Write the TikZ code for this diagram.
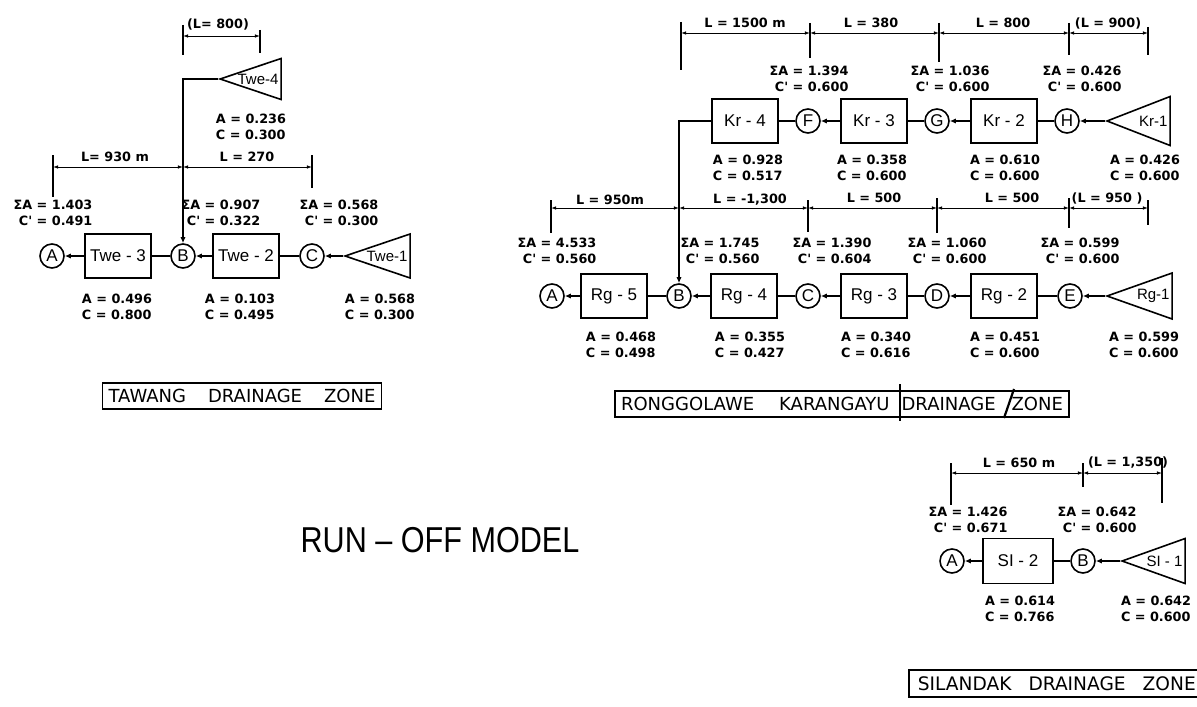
\documentclass[tikz,border=0pt]{standalone}
\usepackage{fontspec}
\setmainfont{Liberation Sans}
\newfontfamily\valfont{DejaVu Sans}
\newfontfamily\zonefont{DejaVu Sans}
\newfontfamily\headfont[FakeStretch=0.85]{Liberation Sans}
\usetikzlibrary{arrows.meta,positioning,shapes.geometric}

\begin{document}
\begin{tikzpicture}[x=0.5pt,y=-0.5pt,
  sub/.style={draw,line width=0.8pt,minimum width=33pt,minimum height=22pt,inner sep=0pt,font=\fontsize{8.5}{10}\selectfont},
  jn/.style={draw,circle,line width=0.8pt,minimum size=12pt,inner sep=0pt,font=\fontsize{8.5}{10}\selectfont},
  head/.style={draw,isosceles triangle,shape border rotate=180,isosceles triangle stretches,line width=0.8pt,inner sep=0pt,anchor=apex,minimum width=22pt,minimum height=32.5pt},
  hlab/.style={anchor=east,inner sep=1.5pt,font=\fontsize{7.5}{9}\selectfont},
  val/.style={inner sep=0pt,font=\valfont\bfseries\fontsize{6.4}{8}\selectfont},
  sum/.style={val,align=right},
  own/.style={val,align=left},
  flow/.style={-{Latex[length=3pt,width=2.6pt]},line width=0.8pt},
  link/.style={line width=0.8pt},
  dim/.style={{Latex[length=2.6pt,width=1.8pt]}-{Latex[length=2.6pt,width=1.8pt]},line width=0.4pt},
  tck/.style={line width=0.9pt},
  zone/.style={draw,line width=0.8pt,inner xsep=3pt,inner ysep=0pt,minimum height=13pt,font=\zonefont\fontsize{9}{10}\selectfont}]
\useasboundingbox (0,0) rectangle (1197,706);

\node[jn] (tA) at (52,256) {A};
\node[sub] (tw3) at (118,256) {Twe - 3};
\node[jn] (tB) at (183,256) {B};
\node[sub] (tw2) at (246,256) {Twe - 2};
\node[jn] (tC) at (312,256) {C};
\node[head] (tw1) at (343,256) {};
\node[hlab] (tw1l) at (tw1.lower side) {Twe-1};
\node[head,minimum width=20.5pt,minimum height=30.5pt] (tw4) at (218,79) {};
\node[hlab] (tw4l) at (tw4.lower side) {Twe-4};
\draw[flow] (tw1.apex) -- (tC); \draw[link] (tC) -- (tw2); \draw[flow] (tw2) -- (tB);
\draw[link] (tB) -- (tw3); \draw[flow] (tw3) -- (tA);
\draw[flow] (tw4.apex) -| (tB);

\coordinate (td1) at (183,36); \coordinate (td2) at (260,36);
\coordinate (td3) at (53,167); \coordinate (td4) at (183,167); \coordinate (td5) at (312,167);
\draw[dim] (td1) -- (td2); \draw[dim] (td3) -- (td4); \draw[dim] (td4) -- (td5);
\draw[tck] (td1) ++(0,-11) -- ++(0,30); \draw[tck] (td2) ++(0,-6) -- ++(0,23);
\draw[tck] (td3) ++(0,-12) -- ++(0,42); \draw[tck] (td5) ++(0,-12) -- ++(0,33);
\node[val] (tl1) at (218,24) {(L= 800)};
\node[val] (tl2) at (115,157) {L= 930 m};
\node[val] (tl3) at (247,157) {L = 270};
\node[sum] (tsA) at (53,213) {ΣA = 1.403\\C' = 0.491};
\node[sum] (tsB) at (221,213) {ΣA = 0.907\\C' = 0.322};
\node[sum] (tsC) at (339,213) {ΣA = 0.568\\C' = 0.300};
\node[own] (tv4) at (251,127) {A = 0.236\\C = 0.300};
\node[own] (tv3) at (117,307) {A = 0.496\\C = 0.800};
\node[own] (tv2) at (240,307) {A = 0.103\\C = 0.495};
\node[own] (tv1) at (380,307) {A = 0.568\\C = 0.300};
\node[zone] (tz) at (242,396) {TAWANG\hspace{11pt}DRAINAGE\hspace{11pt}ZONE};

\node[sub] (kr4) at (745,121) {Kr - 4};
\node[jn] (kF) at (808,121) {F};
\node[sub] (kr3) at (874,121) {Kr - 3};
\node[jn] (kG) at (937,121) {G};
\node[sub] (kr2) at (1004,121) {Kr - 2};
\node[jn] (kH) at (1067,121) {H};
\node[head,minimum width=24.5pt,minimum height=31.5pt] (kr1) at (1105,121) {};
\node[hlab] (kr1l) at (kr1.lower side) {Kr-1};
\draw[flow] (kr1.apex) -- (kH); \draw[link] (kH) -- (kr2); \draw[flow] (kr2) -- (kG);
\draw[link] (kG) -- (kr3); \draw[flow] (kr3) -- (kF); \draw[link] (kF) -- (kr4);

\coordinate (kd1) at (681,33); \coordinate (kd2) at (810,33); \coordinate (kd3) at (939,33);
\coordinate (kd4) at (1069,33); \coordinate (kd5) at (1148,33);
\foreach \a/\b in {kd1/kd2,kd2/kd3,kd3/kd4,kd4/kd5} \draw[dim] (\a) -- (\b);
\draw[tck] (kd1) ++(0,-11) -- ++(0,48); \draw[tck] (kd2) ++(0,-10) -- ++(0,35);
\draw[tck] (kd3) ++(0,-10) -- ++(0,39); \draw[tck] (kd4) ++(0,-10) -- ++(0,32);
\draw[tck] (kd5) ++(0,-6) -- ++(0,28);
\node[val] (kl1) at (745,23) {L = 1500 m};
\node[val] (kl2) at (871,23) {L = 380};
\node[val] (kl3) at (1003,23) {L = 800};
\node[val] (kl4) at (1108,23) {(L = 900)};
\node[sum] (ksF) at (809,79) {ΣA = 1.394\\C' = 0.600};
\node[sum] (ksG) at (950,79) {ΣA = 1.036\\C' = 0.600};
\node[sum] (ksH) at (1082,79) {ΣA = 0.426\\C' = 0.600};
\node[own] (kv4) at (748,168) {A = 0.928\\C = 0.517};
\node[own] (kv3) at (872,168) {A = 0.358\\C = 0.600};
\node[own] (kv2) at (1005,168) {A = 0.610\\C = 0.600};
\node[own] (kv1) at (1145,168) {A = 0.426\\C = 0.600};

\node[jn] (rA) at (552,296) {A};
\node[sub] (rg5) at (614,296) {Rg - 5};
\node[jn] (rB) at (679,296) {B};
\node[sub] (rg4) at (744,296) {Rg - 4};
\node[jn] (rC) at (808,296) {C};
\node[sub] (rg3) at (874,296) {Rg - 3};
\node[jn] (rD) at (937,296) {D};
\node[sub] (rg2) at (1004,296) {Rg - 2};
\node[jn] (rE) at (1070,296) {E};
\node[head,minimum width=23pt,minimum height=32.5pt] (rg1) at (1105,296) {};
\node[hlab] (rg1l) at (rg1.lower side) {Rg-1};
\draw[flow] (rg1.apex) -- (rE); \draw[link] (rE) -- (rg2); \draw[flow] (rg2) -- (rD);
\draw[link] (rD) -- (rg3); \draw[flow] (rg3) -- (rC); \draw[link] (rC) -- (rg4);
\draw[flow] (rg4) -- (rB); \draw[link] (rB) -- (rg5); \draw[flow] (rg5) -- (rA);
\draw[flow] (kr4) -| (rB);

\coordinate (rd1) at (551,208); \coordinate (rd2) at (679,208); \coordinate (rd3) at (808,208);
\coordinate (rd4) at (937,208); \coordinate (rd5) at (1069,208); \coordinate (rd6) at (1148,208);
\foreach \a/\b in {rd1/rd2,rd2/rd3,rd3/rd4,rd4/rd5,rd5/rd6} \draw[dim] (\a) -- (\b);
\draw[tck] (rd1) ++(0,-8) -- ++(0,33); \draw[tck] (rd3) ++(0,-8) -- ++(0,32);
\draw[tck] (rd4) ++(0,-10) -- ++(0,35); \draw[tck] (rd5) ++(0,-10) -- ++(0,30);
\draw[tck] (rd6) ++(0,-8) -- ++(0,25);
\node[val] (rl1) at (610,200) {L = 950m};
\node[val] (rl2) at (750,200) {L = -1,300};
\node[val] (rl3) at (874,198) {L = 500};
\node[val] (rl4) at (1012,198) {L = 500};
\node[val] (rl5) at (1107,198) {(L = 950 )};
\node[sum] (rsA) at (557,251) {ΣA = 4.533\\C' = 0.560};
\node[sum] (rsB) at (720,251) {ΣA = 1.745\\C' = 0.560};
\node[sum] (rsC) at (832,251) {ΣA = 1.390\\C' = 0.604};
\node[sum] (rsD) at (947,251) {ΣA = 1.060\\C' = 0.600};
\node[sum] (rsE) at (1080,251) {ΣA = 0.599\\C' = 0.600};
\node[own] (rv5) at (621,345) {A = 0.468\\C = 0.498};
\node[own] (rv4) at (750,345) {A = 0.355\\C = 0.427};
\node[own] (rv3) at (876,345) {A = 0.340\\C = 0.616};
\node[own] (rv2) at (1005,345) {A = 0.451\\C = 0.600};
\node[own] (rv1) at (1144,345) {A = 0.599\\C = 0.600};
\node[zone] (rz) at (842,404) {RONGGOLAWE\hspace{12.5pt}KARANGAYU\hspace{6pt}DRAINAGE\hspace{8pt}ZONE};
\draw[line width=1.1pt] (900,384) -- (900,421);
\draw[line width=1.1pt] (1004,418) -- (1014,389);

\node[jn] (sA) at (952,561) {A};
\node[sub,minimum width=35pt,minimum height=22.5pt] (si2) at (1018,561) {SI - 2};
\node[jn] (sB) at (1083,561) {B};
\node[head,minimum width=22.5pt,minimum height=31.5pt] (si1) at (1120,561) {};
\node[hlab] (si1l) at (si1.lower side) {SI - 1};
\draw[flow] (si1.apex) -- (sB); \draw[link] (sB) -- (si2); \draw[flow] (si2) -- (sA);

\coordinate (sd1) at (951,473); \coordinate (sd2) at (1083,473); \coordinate (sd3) at (1162,473);
\draw[dim] (sd1) -- (sd2); \draw[dim] (sd2) -- (sd3);
\draw[tck] (sd1) ++(0,-10) -- ++(0,42); \draw[tck] (sd2) ++(0,-10) -- ++(0,24);
\draw[tck] (sd3) ++(0,-15) -- ++(0,45);
\node[val] (sl1) at (1019,463) {L = 650 m};
\node[val] (sl2) at (1128,463) {(L = 1,350)};
\node[sum] (ssA) at (968,520) {ΣA = 1.426\\C' = 0.671};
\node[sum] (ssB) at (1097,520) {ΣA = 0.642\\C' = 0.600};
\node[own] (sv2) at (1020,609) {A = 0.614\\C = 0.766};
\node[own] (sv1) at (1156,609) {A = 0.642\\C = 0.600};
\node[zone,anchor=west,font=\zonefont\fontsize{9.3}{11}\selectfont,minimum height=13.5pt,minimum width=148pt,inner xsep=0pt] (sz) at (908,683.5) {SILANDAK\hspace{8.5pt}DRAINAGE\hspace{8.5pt}ZONE};

\node[font=\headfont\fontsize{18}{20}\selectfont] (title) at (440,540) {RUN – OFF MODEL};
\end{tikzpicture}
\end{document}
